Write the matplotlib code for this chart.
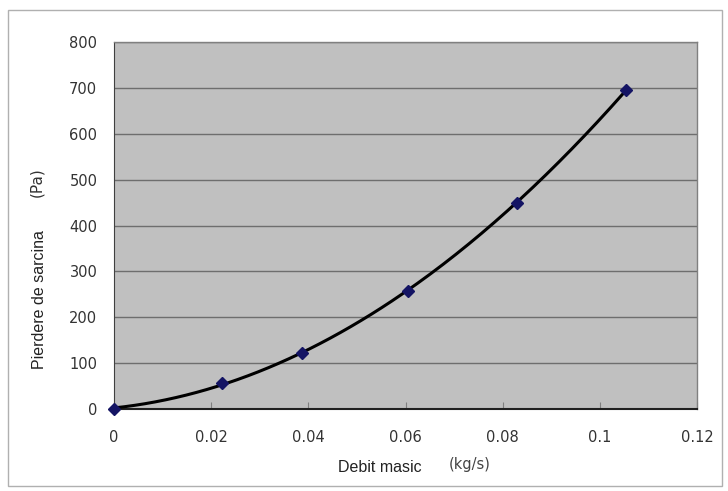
import numpy as np
import matplotlib
matplotlib.use("Agg")
import matplotlib.pyplot as plt
from matplotlib.patches import Rectangle

# data
flow = [0.0, 0.0222, 0.0387, 0.0606, 0.0829, 0.1053]
loss = [0, 57, 123, 258, 449, 695]
xticks = [0, 0.02, 0.04, 0.06, 0.08, 0.1, 0.12]
xticklabels = ["0", "0.02", "0.04", "0.06", "0.08", "0.1", "0.12"]
yticks = [0, 100, 200, 300, 400, 500, 600, 700, 800]

plt.rcParams['font.family'] = ['DejaVu Sans']

fig = plt.figure(figsize=(7.28, 4.91), dpi=100)
fig.patch.set_facecolor('white')
# outer chart border
fig.patches.append(Rectangle((8/728, 1 - 486/491), 714/728, 476/491, transform=fig.transFigure,
                             fill=False, edgecolor='#b0b0b0', linewidth=1.0))

ax = fig.add_axes([114/728, 1 - 409/491, (697 - 114)/728, (409 - 42)/491])
ax.set_facecolor('#c0c0c0')
ax.set_xlim(0, 0.12)
ax.set_ylim(0, 800)
ax.set_xticks(xticks)
ax.set_xticklabels(xticklabels)
ax.set_yticks(yticks)
for yv in yticks[1:]:
    ax.axhline(yv, color='#6e6e6e', linewidth=1.0, zorder=1)

# trend curve (quadratic fit of the measured points)
coef = np.polyfit(flow, loss, 2)
xs = np.linspace(0, flow[-1], 200)
ax.plot(xs, np.polyval(coef, xs), color='black', linewidth=2.2, zorder=3)
ax.plot(flow, loss, linestyle='none', marker='D', markersize=6,
        color='#141464', zorder=4, clip_on=False)

for s in ['top', 'right']:
    ax.spines[s].set_color('#808080')
    ax.spines[s].set_linewidth(1.0)
ax.spines['left'].set_color('#404040')
ax.spines['bottom'].set_color('#202020')
ax.spines['bottom'].set_linewidth(1.5)

ax.tick_params(axis='x', direction='in', length=5, color='#808080', labelsize=10.5,
               labelcolor='#333333', pad=15)
ax.tick_params(axis='y', length=0, labelsize=10.5, labelcolor='#333333', pad=12)

lab = ['Liberation Sans', 'DejaVu Sans']
fig.text(40/728, 1 - 300/491, "Pierdere de sarcina", rotation=90, ha='center', va='center',
         fontsize=11.5, color='#222222', family=lab)
fig.text(37/728, 1 - 182/491, "(Pa)", rotation=90, ha='center', va='center',
         fontsize=11, color='#333333')
fig.text(380/728, 1 - 468/491, "Debit masic", ha='center', va='center',
         fontsize=11.5, color='#222222', family=lab)
fig.text(470/728, 1 - 465/491, "(kg/s)", ha='center', va='center',
         fontsize=10.5, color='#444444')

fig.savefig("out.png", dpi=100)
